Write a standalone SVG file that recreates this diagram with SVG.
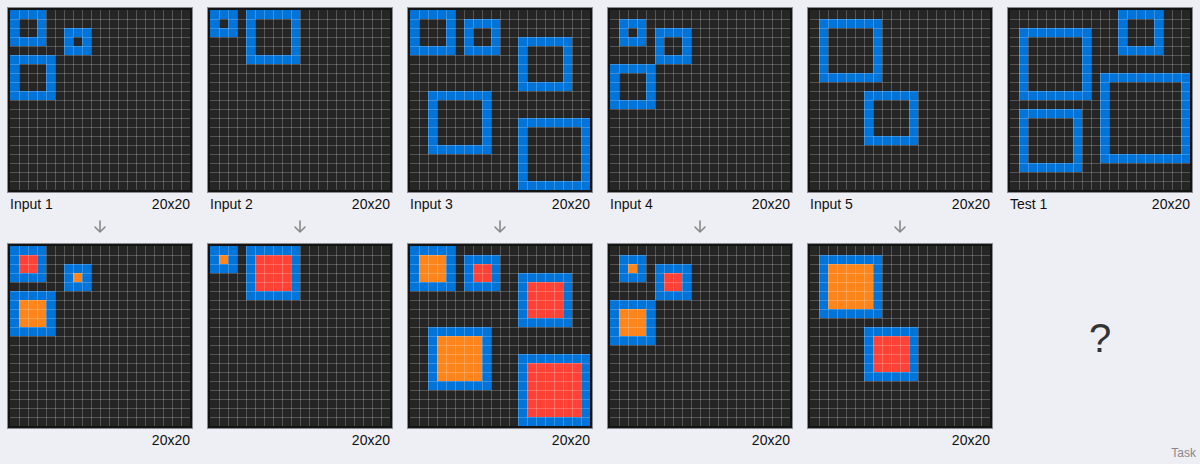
<svg xmlns="http://www.w3.org/2000/svg" xmlns:xlink="http://www.w3.org/1999/xlink" width="1200" height="464" viewBox="0 0 1200 464">
<style>
.frame{fill:#141414;stroke:#8a8a8f;stroke-width:1}
.bg{fill:#252525}
.b{fill:#0074D9}
.k{fill:#252525}
.r{fill:#FF4136}
.o{fill:#FF851B}
.gl{stroke:#ffffff;stroke-opacity:0.22;stroke-width:1;fill:none}
.lbl{font-family:"Liberation Sans",Arial,Helvetica,sans-serif;font-size:14px;fill:#111}
.arr{fill:none;stroke:#8a8a8a;stroke-width:1.6;stroke-linecap:round;stroke-linejoin:round}
</style>
<defs>
<g id="base">
<rect class="frame" x="-2.5" y="-2.5" width="185" height="185"/>
<rect class="bg" x="0" y="0" width="180" height="180"/>
</g>
<path id="lines" class="gl" d="M9.5 0V180M18.5 0V180M27.5 0V180M36.5 0V180M45.5 0V180M54.5 0V180M63.5 0V180M72.5 0V180M81.5 0V180M90.5 0V180M99.5 0V180M108.5 0V180M117.5 0V180M126.5 0V180M135.5 0V180M144.5 0V180M153.5 0V180M162.5 0V180M171.5 0V180M0 9.5H180M0 18.5H180M0 27.5H180M0 36.5H180M0 45.5H180M0 54.5H180M0 63.5H180M0 72.5H180M0 81.5H180M0 90.5H180M0 99.5H180M0 108.5H180M0 117.5H180M0 126.5H180M0 135.5H180M0 144.5H180M0 153.5H180M0 162.5H180M0 171.5H180"/>
<path id="arrow" class="arr" d="M0 -5.5V5.5M-5 0.5L0 5.5L5 0.5"/>
</defs>
<rect x="0" y="0" width="1200" height="464" fill="#eeeef5"/>

<!-- Input 1 -->
<g id="input1">
<g transform="translate(10,10)">
<use href="#base"/>
<rect class="b" x="0" y="0" width="36" height="36"/><rect class="k" x="9" y="9" width="18" height="18"/>
<rect class="b" x="54" y="18" width="27" height="27"/><rect class="k" x="63" y="27" width="9" height="9"/>
<rect class="b" x="0" y="45" width="45" height="45"/><rect class="k" x="9" y="54" width="27" height="27"/>
<use href="#lines"/>
</g>
<text class="lbl" x="10" y="209">Input 1</text>
<text class="lbl" x="190" y="209" text-anchor="end">20x20</text>
</g>
<g id="output1">
<g transform="translate(10,246)">
<use href="#base"/>
<rect class="b" x="0" y="0" width="36" height="36"/><rect class="r" x="9" y="9" width="18" height="18"/>
<rect class="b" x="54" y="18" width="27" height="27"/><rect class="o" x="63" y="27" width="9" height="9"/>
<rect class="b" x="0" y="45" width="45" height="45"/><rect class="o" x="9" y="54" width="27" height="27"/>
<use href="#lines"/>
</g>
<text class="lbl" x="190" y="445" text-anchor="end">20x20</text>
</g>

<!-- Input 2 -->
<g id="input2">
<g transform="translate(210,10)">
<use href="#base"/>
<rect class="b" x="0" y="0" width="27" height="27"/><rect class="k" x="9" y="9" width="9" height="9"/>
<rect class="b" x="36" y="0" width="54" height="54"/><rect class="k" x="45" y="9" width="36" height="36"/>
<use href="#lines"/>
</g>
<text class="lbl" x="210" y="209">Input 2</text>
<text class="lbl" x="390" y="209" text-anchor="end">20x20</text>
</g>
<g id="output2">
<g transform="translate(210,246)">
<use href="#base"/>
<rect class="b" x="0" y="0" width="27" height="27"/><rect class="o" x="9" y="9" width="9" height="9"/>
<rect class="b" x="36" y="0" width="54" height="54"/><rect class="r" x="45" y="9" width="36" height="36"/>
<use href="#lines"/>
</g>
<text class="lbl" x="390" y="445" text-anchor="end">20x20</text>
</g>

<!-- Input 3 -->
<g id="input3">
<g transform="translate(410,10)">
<use href="#base"/>
<rect class="b" x="0" y="0" width="45" height="45"/><rect class="k" x="9" y="9" width="27" height="27"/>
<rect class="b" x="54" y="9" width="36" height="36"/><rect class="k" x="63" y="18" width="18" height="18"/>
<rect class="b" x="108" y="27" width="54" height="54"/><rect class="k" x="117" y="36" width="36" height="36"/>
<rect class="b" x="18" y="81" width="63" height="63"/><rect class="k" x="27" y="90" width="45" height="45"/>
<rect class="b" x="108" y="108" width="72" height="72"/><rect class="k" x="117" y="117" width="54" height="54"/>
<use href="#lines"/>
</g>
<text class="lbl" x="410" y="209">Input 3</text>
<text class="lbl" x="590" y="209" text-anchor="end">20x20</text>
</g>
<g id="output3">
<g transform="translate(410,246)">
<use href="#base"/>
<rect class="b" x="0" y="0" width="45" height="45"/><rect class="o" x="9" y="9" width="27" height="27"/>
<rect class="b" x="54" y="9" width="36" height="36"/><rect class="r" x="63" y="18" width="18" height="18"/>
<rect class="b" x="108" y="27" width="54" height="54"/><rect class="r" x="117" y="36" width="36" height="36"/>
<rect class="b" x="18" y="81" width="63" height="63"/><rect class="o" x="27" y="90" width="45" height="45"/>
<rect class="b" x="108" y="108" width="72" height="72"/><rect class="r" x="117" y="117" width="54" height="54"/>
<use href="#lines"/>
</g>
<text class="lbl" x="590" y="445" text-anchor="end">20x20</text>
</g>

<!-- Input 4 -->
<g id="input4">
<g transform="translate(610,10)">
<use href="#base"/>
<rect class="b" x="9" y="9" width="27" height="27"/><rect class="k" x="18" y="18" width="9" height="9"/>
<rect class="b" x="45" y="18" width="36" height="36"/><rect class="k" x="54" y="27" width="18" height="18"/>
<rect class="b" x="0" y="54" width="45" height="45"/><rect class="k" x="9" y="63" width="27" height="27"/>
<use href="#lines"/>
</g>
<text class="lbl" x="610" y="209">Input 4</text>
<text class="lbl" x="790" y="209" text-anchor="end">20x20</text>
</g>
<g id="output4">
<g transform="translate(610,246)">
<use href="#base"/>
<rect class="b" x="9" y="9" width="27" height="27"/><rect class="o" x="18" y="18" width="9" height="9"/>
<rect class="b" x="45" y="18" width="36" height="36"/><rect class="r" x="54" y="27" width="18" height="18"/>
<rect class="b" x="0" y="54" width="45" height="45"/><rect class="o" x="9" y="63" width="27" height="27"/>
<use href="#lines"/>
</g>
<text class="lbl" x="790" y="445" text-anchor="end">20x20</text>
</g>

<!-- Input 5 -->
<g id="input5">
<g transform="translate(810,10)">
<use href="#base"/>
<rect class="b" x="9" y="9" width="63" height="63"/><rect class="k" x="18" y="18" width="45" height="45"/>
<rect class="b" x="54" y="81" width="54" height="54"/><rect class="k" x="63" y="90" width="36" height="36"/>
<use href="#lines"/>
</g>
<text class="lbl" x="810" y="209">Input 5</text>
<text class="lbl" x="990" y="209" text-anchor="end">20x20</text>
</g>
<g id="output5">
<g transform="translate(810,246)">
<use href="#base"/>
<rect class="b" x="9" y="9" width="63" height="63"/><rect class="o" x="18" y="18" width="45" height="45"/>
<rect class="b" x="54" y="81" width="54" height="54"/><rect class="r" x="63" y="90" width="36" height="36"/>
<use href="#lines"/>
</g>
<text class="lbl" x="990" y="445" text-anchor="end">20x20</text>
</g>

<!-- Test 1 -->
<g id="test1">
<g transform="translate(1010,10)">
<use href="#base"/>
<rect class="b" x="9" y="18" width="72" height="72"/><rect class="k" x="18" y="27" width="54" height="54"/>
<rect class="b" x="108" y="0" width="45" height="45"/><rect class="k" x="117" y="9" width="27" height="27"/>
<rect class="b" x="9" y="99" width="63" height="63"/><rect class="k" x="18" y="108" width="45" height="45"/>
<rect class="b" x="90" y="63" width="90" height="90"/><rect class="k" x="99" y="72" width="72" height="72"/>
<use href="#lines"/>
</g>
<text class="lbl" x="1010" y="209">Test 1</text>
<text class="lbl" x="1190" y="209" text-anchor="end">20x20</text>
</g>
<g id="test1-output">
<text x="1100" y="352" text-anchor="middle" font-family="'Liberation Sans',Arial,sans-serif" font-size="40" fill="#333">?</text>
</g>

<g id="connectors">
<use href="#arrow" x="100" y="226.5"/>
<use href="#arrow" x="300" y="226.5"/>
<use href="#arrow" x="500" y="226.5"/>
<use href="#arrow" x="700" y="226.5"/>
<use href="#arrow" x="900" y="226.5"/>
</g>

<text x="1196" y="457" text-anchor="end" font-family="'Liberation Sans',Arial,sans-serif" font-size="12" fill="#888">Task</text>
</svg>
